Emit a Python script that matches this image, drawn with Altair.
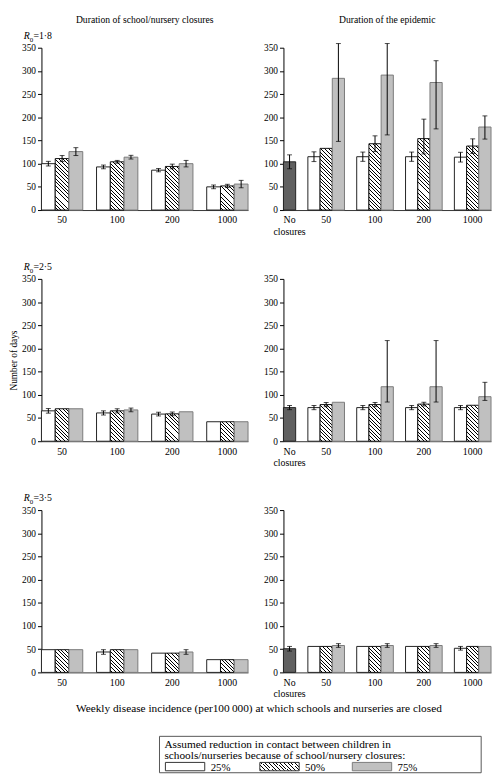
import altair as alt

FONT = "Liberation Serif"

GROUPS = ["50", "100", "200", "1000"]
SERIES = ["25%", "50%", "75%"]
R0_VALUES = ["1·8", "2·5", "3·5"]

# Duration of school/nursery closures (left column); order: group 50,100,200,1000 x series 25/50/75 %
closure_r18 = [100, 111, 126, 93, 104, 114, 86, 94, 100, 50, 52, 56]
closure_r18_lo = [95, 104.5, 117.5, 89, 101, 110, 82.5, 89, 93, 46, 48.5, 48]
closure_r18_hi = [105, 117.5, 134.5, 97, 107, 118, 89.5, 99, 107, 54, 55.5, 64]

closure_r25 = [65.5, 70, 70, 61, 65.5, 67.5, 58.5, 59, 63.5, 42, 42, 42]
closure_r25_lo = [60.5, None, None, 56.5, 61, 63.5, 54.5, 55, None, None, None, None]
closure_r25_hi = [70.5, None, None, 65.5, 70, 71.5, 62.5, 63, None, None, None, None]

closure_r35 = [49, 49, 49, 44, 49, 49, 41.5, 41.5, 44, 27.5, 27.5, 27.5]
closure_r35_lo = [None, None, None, 39, None, None, None, None, 39, None, None, None]
closure_r35_hi = [None, None, None, 49, None, None, None, None, 49, None, None, None]

# Duration of the epidemic (right column)
noclose_mean = [104, 72.5, 51]
noclose_lo = [89, 68, 46]
noclose_hi = [119, 77, 56]

epidemic_r18 = [115, 133, 284, 115, 143, 291, 115, 154, 275, 114, 138, 179]
epidemic_r18_lo = [104.5, None, 148, 105, 126, 162, 105, 121, 175, 103.5, 122, 153]
epidemic_r18_hi = [125.5, None, 359, 125, 160, 359, 125, 196, 322, 124.5, 153.5, 203]

epidemic_r25 = [72.5, 79, 84, 72.5, 79, 117.5, 72.5, 80, 117.5, 72.5, 77.5, 96]
epidemic_r25_lo = [68, 74.5, None, 68, 74.5, 84.5, 68, 76, 84.5, 68, None, 88]
epidemic_r25_hi = [77, 83.5, None, 77, 83.5, 217, 77, 84, 217, 77, None, 127]

epidemic_r35 = [56, 56, 58, 56, 56, 58, 56, 56, 58, 52, 56, 56]
epidemic_r35_lo = [None, None, 54, None, None, 54, None, None, 54, 48, None, None]
epidemic_r35_hi = [None, None, 62, None, None, 62, None, None, 62, 56, None, None]

LEFT_TITLE = "Duration of school/nursery closures"
RIGHT_TITLE = "Duration of the epidemic"
Y_TITLE = "Number of days"
X_TITLE = "Weekly disease incidence (per100\u2009000) at which schools and nurseries are closed"
LEGEND_LINES = ["Assumed reduction in contact between children in",
                "schools/nurseries because of school/nursery closures:"]
NO_CLOSURE_LABEL = "No\nclosures"

# ---------------- layout / style ----------------
H = 165
YMAX = 350
W_LEFT = 210
W_RIGHT = 211
N_LEFT = 15
N_RIGHT = 17
FS = 9.5
GRAY = "#c0c0c0"
DARK = "#606060"


def hatch(w, h, period=3.8, lw=1.0):
    L = w + h
    k = L / (w * w + h * h)
    stops = [{"offset": 0, "color": "#ffffff"}]
    s = period * 0.5
    while s + lw < L:
        a, b = round(s / L, 5), round((s + lw) / L, 5)
        stops += [{"offset": a, "color": "#ffffff"}, {"offset": a, "color": "#000000"},
                  {"offset": b, "color": "#000000"}, {"offset": b, "color": "#ffffff"}]
        s += period
    stops.append({"offset": 1, "color": "#ffffff"})
    return {"gradient": "linear", "x1": 0, "y1": 1,
            "x2": round(w * k, 5), "y2": round(1 - h * k, 5), "stops": stops}


def style_for(si, v, slot_w):
    if si == 0:
        return "#ffffff", "#222222"
    if si == 1:
        return hatch(slot_w, v / YMAX * H), "#111111"
    return GRAY, "#7a7a7a"


def records(means, los, his, first_slot, slot_w, none=None):
    recs = []
    if none is not None:
        m, lo, hi = none
        recs.append({"slot": 0, "v": m, "lo": lo, "hi": hi, "fill": DARK, "stroke": "#222222"})
    for gi in range(len(GROUPS)):
        for si in range(len(SERIES)):
            i = gi * 3 + si
            fill, stroke = style_for(si, means[i], slot_w)
            recs.append({"slot": first_slot + 4 * gi + si, "v": means[i], "lo": los[i], "hi": his[i],
                         "fill": fill, "stroke": stroke})
    return recs


def label_expr(mapping):
    expr = "''"
    for k, v in reversed(list(mapping.items())):
        if "\n" in v:
            lab = "[" + ",".join("'" + p + "'" for p in v.split("\n")) + "]"
        else:
            lab = "'" + v + "'"
        expr = "datum.value == %d ? %s : %s" % (k, lab, expr)
    return expr


def one():
    return alt.Data(values=[{"a": 1}])


def panel(recs, n_slots, width, labels, r0=None, ytitle=None, title=None):
    data = alt.Data(values=recs)
    base = alt.Chart(data)
    xs = alt.Scale(domain=list(range(n_slots)), paddingInner=0, paddingOuter=0)
    xaxis = alt.Axis(values=list(labels.keys()), labelExpr=label_expr(labels), ticks=False,
                     labelAngle=0, labelPadding=5, labelLineHeight=12, title=None,
                     labelFontSize=10, domainColor="#333333")
    ys = alt.Scale(domain=[0, YMAX], nice=False)
    yaxis = alt.Axis(values=list(range(0, YMAX + 1, 50)), tickSize=4, labelPadding=2,
                     titlePadding=3)
    ttl = ytitle if ytitle else None
    bars = base.mark_bar(strokeWidth=1).encode(
        x=alt.X("slot:O", scale=xs, axis=xaxis),
        y=alt.Y("v:Q", scale=ys, axis=yaxis, title=ttl),
        fill=alt.Fill("fill:N", scale=None),
        stroke=alt.Stroke("stroke:N", scale=None),
    )
    errbase = base.transform_filter("isValid(datum.lo)")
    rule = errbase.mark_rule(color="black", strokeWidth=1).encode(
        x=alt.X("slot:O", scale=xs, axis=xaxis),
        y=alt.Y("lo:Q", scale=ys, axis=yaxis, title=ttl), y2="hi:Q")
    cap_lo = errbase.mark_tick(color="black", size=5, thickness=1, orient="horizontal").encode(
        x=alt.X("slot:O", scale=xs, axis=xaxis),
        y=alt.Y("lo:Q", scale=ys, axis=yaxis, title=ttl))
    cap_hi = errbase.mark_tick(color="black", size=5, thickness=1, orient="horizontal").encode(
        x=alt.X("slot:O", scale=xs, axis=xaxis),
        y=alt.Y("hi:Q", scale=ys, axis=yaxis, title=ttl))
    layers = [bars, rule, cap_lo, cap_hi]
    if r0 is not None:
        layers.append(alt.Chart(one()).mark_text(fontStyle="italic", fontSize=10, align="left",
                                                 baseline="alphabetic").encode(
            x=alt.value(-18), y=alt.value(-9), text=alt.value("R")))
        layers.append(alt.Chart(one()).mark_text(fontSize=7, align="left",
                                                 baseline="alphabetic").encode(
            x=alt.value(-11.8), y=alt.value(-6.3), text=alt.value("0")))
        layers.append(alt.Chart(one()).mark_text(fontSize=10, align="left",
                                                 baseline="alphabetic").encode(
            x=alt.value(-8.2), y=alt.value(-9), text=alt.value("=" + r0)))
    if title is not None:
        layers.append(alt.Chart(one()).mark_text(fontSize=9.8, align="center",
                                                 baseline="alphabetic").encode(
            x=alt.value(width / 2), y=alt.value(-25.5), text=alt.value(title)))
    return alt.layer(*layers).properties(width=width, height=H)


left_labels = {4 * gi + 1: g for gi, g in enumerate(GROUPS)}
right_labels = {0: NO_CLOSURE_LABEL}
right_labels.update({2 + 4 * gi + 1: g for gi, g in enumerate(GROUPS)})

sw_l = W_LEFT / N_LEFT
sw_r = W_RIGHT / N_RIGHT

closures = [(closure_r18, closure_r18_lo, closure_r18_hi),
            (closure_r25, closure_r25_lo, closure_r25_hi),
            (closure_r35, closure_r35_lo, closure_r35_hi)]
epidemics = [(epidemic_r18, epidemic_r18_lo, epidemic_r18_hi),
             (epidemic_r25, epidemic_r25_lo, epidemic_r25_hi),
             (epidemic_r35, epidemic_r35_lo, epidemic_r35_hi)]

cells = []
for r in range(3):
    m, lo, hi = closures[r]
    left = panel(records(m, lo, hi, 0, sw_l), N_LEFT, W_LEFT, left_labels, r0=R0_VALUES[r],
                 ytitle=Y_TITLE if r == 1 else None,
                 title=LEFT_TITLE if r == 0 else None)
    m, lo, hi = epidemics[r]
    right = panel(records(m, lo, hi, 2, sw_r, none=(noclose_mean[r], noclose_lo[r], noclose_hi[r])),
                  N_RIGHT, W_RIGHT, right_labels,
                  title=RIGHT_TITLE if r == 0 else None)
    cells += [left, right]

# legend + shared x title (drawn relative to the bottom-left cell origin)
LX0, LX1, LY0, LY1 = 120, 447, -5, 32
LFS = 11.5
leg = [
    alt.Chart(one()).mark_text(fontSize=11.5, align="center", baseline="alphabetic").encode(
        x=alt.value(221), y=alt.value(-30), text=alt.value(X_TITLE)),
    alt.Chart(one()).mark_rect(fill="white", stroke="#555555", strokeWidth=1).encode(
        x=alt.value(LX0), x2=alt.value(LX1), y=alt.value(LY0), y2=alt.value(LY1)),
    alt.Chart(one()).mark_text(fontSize=LFS, align="left", baseline="alphabetic").encode(
        x=alt.value(LX0 + 5), y=alt.value(LY0 + 11.5), text=alt.value(LEGEND_LINES[0])),
    alt.Chart(one()).mark_text(fontSize=LFS, align="left", baseline="alphabetic").encode(
        x=alt.value(LX0 + 5), y=alt.value(LY0 + 23.5), text=alt.value(LEGEND_LINES[1])),
]
sym_x = [LX0 + 6, LX0 + 102, LX0 + 196]
sym_fill = ["#ffffff", hatch(40, 9), GRAY]
sym_stroke = ["#333333", "#333333", "#7a7a7a"]
for i, s in enumerate(SERIES):
    leg.append(alt.Chart(one()).mark_rect(stroke=sym_stroke[i], strokeWidth=1, fill=sym_fill[i]).encode(
        x=alt.value(sym_x[i]), x2=alt.value(sym_x[i] + 40), y=alt.value(LY0 + 26.5),
        y2=alt.value(LY0 + 35)))
    leg.append(alt.Chart(one()).mark_text(fontSize=11, align="left", baseline="alphabetic").encode(
        x=alt.value(sym_x[i] + 46), y=alt.value(LY0 + 35), text=alt.value(s)))
legend = alt.layer(*leg).properties(width=W_LEFT, height=31)
cells.append(legend)

chart = alt.concat(*cells, columns=2, spacing={"row": 70, "column": 36}, bounds="flush").properties(
    padding=0
).configure_view(stroke=None).configure_axis(
    labelFont=FONT, titleFont=FONT, labelFontSize=FS, titleFontSize=FS, labelColor="black",
    titleColor="black", titleFontWeight="normal", domainColor="black", tickColor="black", grid=False
).configure_text(font=FONT, color="black")

chart.save("out.html", embed_options={"renderer": "svg", "actions": False})
